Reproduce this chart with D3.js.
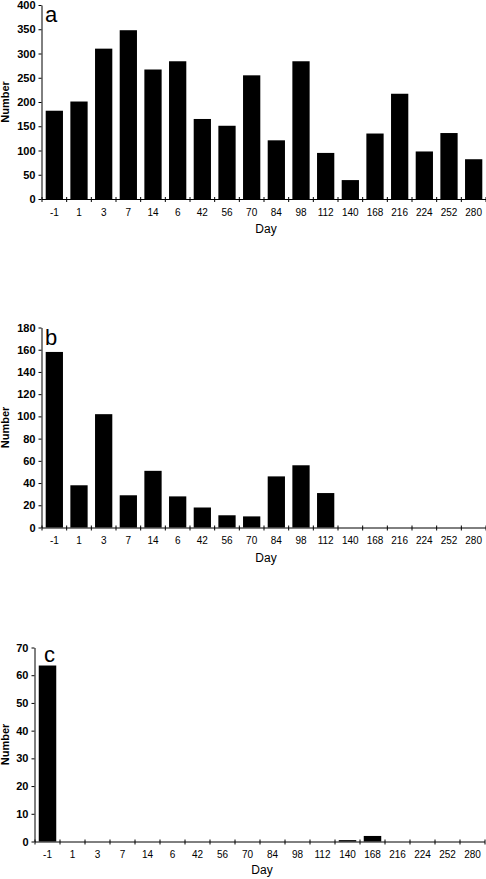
<!DOCTYPE html>
<meta charset="utf-8">
<style>
body { margin: 0; background: #fff; }
svg { display: block; }
text { font-family: "Liberation Sans", Arial, sans-serif; fill: #000; }
.axis path, .axis line { stroke: #000; stroke-width: 1px; }
.ytick text { font-size: 11px; font-weight: bold; }
.xtick text { font-size: 10px; }
</style>
<svg width="486" height="879"></svg>
<script src="https://d3js.org/d3.v7.min.js"></script>
<script>

var days = ["-1", "1", "3", "7", "14", "6", "42", "56", "70", "84", "98", "112", "140", "168", "216", "224", "252", "280"]

var countsA = [182, 201, 310, 348, 267, 284, 165, 151, 255, 121, 284, 95, 39, 135, 217, 98, 136, 82]
var countsB = [158, 38, 102, 29, 51, 28, 18, 11, 10, 46, 56, 31, 0, 0, 0, 0, 0, 0]
var countsC = [63.5, 0, 0, 0, 0, 0, 0, 0, 0, 0, 0, 0, 0.5, 2, 0, 0, 0, 0]

var ticksA = [0, 50, 100, 150, 200, 250, 300, 350, 400]
var ticksB = [0, 20, 40, 60, 80, 100, 120, 140, 160, 180]
var ticksC = [0, 10, 20, 30, 40, 50, 60, 70]

var svg = d3.select('svg')

// each panel: where it sits on the page
var panels = [
	{ letter: "a", values: countsA, ticks: ticksA, left: 42, right: 486, top: 5, bottom: 199, lx: 45, ly: 22, dayY: 34 },
	{ letter: "b", values: countsB, ticks: ticksB, left: 42, right: 486, top: 327.5, bottom: 527.5, lx: 45, ly: 345, dayY: 34 },
	{ letter: "c", values: countsC, ticks: ticksC, left: 35, right: 485, top: 647.5, bottom: 841.5, lx: 44, ly: 662, dayY: 32.5 }
]

panels.forEach(function (p) {
	var g = svg.append('g')

	var x = d3.scaleBand()
		.domain(days)
		.range([p.left, p.right])
		.paddingInner(0.3)
		.paddingOuter(0.15)

	var y = d3.scaleLinear()
		.domain([0, d3.max(p.ticks)])
		.range([p.bottom, p.top])

	// bars
	g.append('g').selectAll('rect')
		.data(p.values)
		.enter().append('rect')
		.attr('x', function (d, i) { return x(days[i]) })
		.attr('width', x.bandwidth())
		.attr('y', function (d) { return y(d) })
		.attr('height', function (d) { return p.bottom - y(d) })
		.attr('fill', '#000')

	// y axis
	g.append('g')
		.attr('class', 'axis ytick')
		.attr('transform', 'translate(' + (p.left - 0.5) + ',0)')
		.call(d3.axisLeft(y).tickValues(p.ticks).tickSize(3).tickPadding(3).tickSizeOuter(0))

	// x axis line, ticks sit between bars
	var xg = g.append('g').attr('class', 'axis xtick')
	xg.append('line')
		.attr('x1', p.left).attr('x2', p.right)
		.attr('y1', p.bottom + 0.5).attr('y2', p.bottom + 0.5)
	xg.selectAll('line.tk')
		.data(d3.range(days.length + 1))
		.enter().append('line')
		.attr('class', 'tk')
		.attr('x1', function (i) { return p.left + i * x.step() })
		.attr('x2', function (i) { return p.left + i * x.step() })
		.attr('y1', p.bottom - 2)
		.attr('y2', p.bottom + 3)
	xg.selectAll('text')
		.data(days)
		.enter().append('text')
		.attr('x', function (d) { return x(d) + x.bandwidth() / 2 })
		.attr('y', p.bottom + 16.5)
		.attr('text-anchor', 'middle')
		.text(function (d) { return d })

	// titles
	g.append('text')
		.attr('x', (p.left + p.right) / 2 + 2)
		.attr('y', p.bottom + p.dayY)
		.attr('text-anchor', 'middle')
		.style('font-size', '12px')
		.text('Day')

	g.append('text')
		.attr('transform', 'translate(9,' + ((p.top + p.bottom) / 2) + ') rotate(-90)')
		.attr('text-anchor', 'middle')
		.style('font-size', '11px')
		.style('font-weight', 'bold')
		.text('Number')

	g.append('text')
		.attr('x', p.lx)
		.attr('y', p.ly)
		.style('font-size', '22px')
		.text(p.letter)
})
</script>
